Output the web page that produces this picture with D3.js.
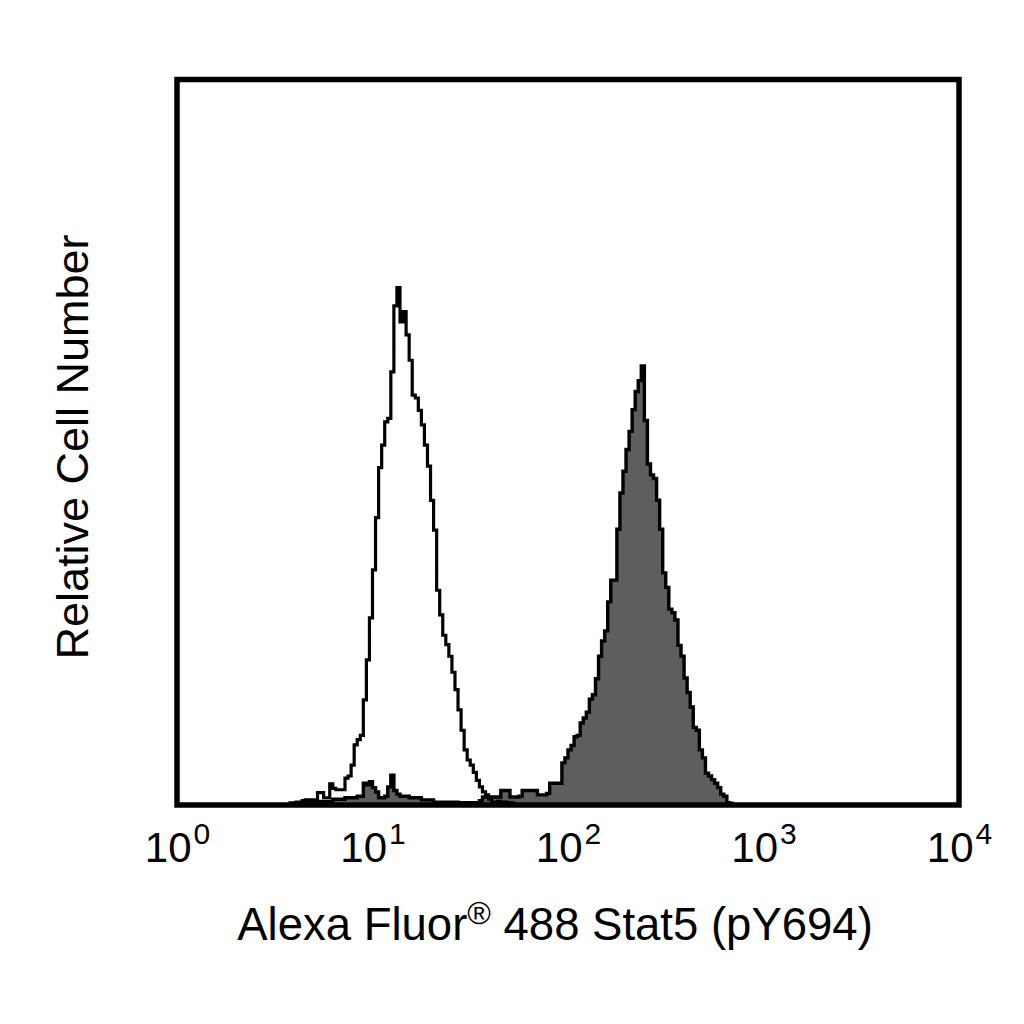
<!DOCTYPE html>
<html>
<head>
<meta charset="utf-8">
<script src="https://cdn.jsdelivr.net/npm/d3@7/dist/d3.min.js"></script>
<style>
  html, body { margin: 0; padding: 0; background: #fff; }
  svg { display: block; }
  text { font-family: "Liberation Sans", Arial, Helvetica, sans-serif; fill: #000; }
</style>
</head>
<body>
<svg id="chart" width="1024" height="1024"></svg>
<script>
// Histogram channels: 64 channels per decade (log10 width 1/64), values are relative cell counts (0-100 scale)
const channelsPerDecade = 64;

// Open (unstained / isotype) histogram, starting at channel 37
const openStart = 37;
const openCounts = [
  0.3, 0.3, 0.4, 0.4, 0.6, 0.7, 0.7, 0.7, 0.7, 1.7,
  1.7, 1.0, 1.0, 2.9, 2.3, 2.1, 2.1, 2.1, 3.7, 4.0,
  5.5, 8.3, 9.0, 9.6, 14.5, 20.0, 25.8, 32.4, 39.6, 46.5,
  49.6, 52.8, 53.3, 59.7, 68.8, 71.3, 66.6, 68.0, 64.8, 61.3,
  56.5, 56.1, 54.4, 52.4, 49.6, 46.7, 42.0, 37.9, 29.6, 26.2,
  23.4, 22.1, 20.5, 18.3, 15.9, 13.1, 10.3, 7.6, 6.2, 5.5,
  4.5, 3.4, 2.5, 1.8, 1.4, 0.8, 0.4, 0.4, 0.5, 0.3,
  0.4, 0.3, 0.3, 0.2
];

// Filled (stimulated, pY694 Stat5) histogram, starting at channel 40
const filledStart = 40;
const filledCounts = [
  0.3, 0.4, 0.4, 0.4, 0.4, 0.4, 0.5, 0.5, 0.5, 0.5,
  0.5, 0.8, 0.8, 0.8, 0.8, 1.0, 1.0, 1.0, 1.0, 1.2,
  1.2, 3.0, 2.8, 3.2, 2.4, 1.8, 1.0, 1.0, 1.2, 2.5,
  4.1, 2.0, 1.5, 1.2, 1.2, 1.2, 1.0, 1.0, 1.0, 1.0,
  0.7, 0.7, 0.7, 0.7, 0.4, 0.4, 0.4, 0.4, 0.4, 0.4,
  0.4, 0.4, 0.3, 0.3, 0.3, 0.3, 0.3, 0.3, 0.3, 0.6,
  1.1, 1.1, 1.1, 1.1, 1.1, 1.1, 2.0, 2.0, 2.0, 1.1,
  1.1, 1.1, 1.2, 2.0, 2.0, 2.0, 2.0, 2.0, 1.4, 1.4,
  1.4, 1.6, 3.0, 3.0, 3.0, 3.0, 5.8, 6.5, 7.6, 8.2,
  9.4, 9.6, 11.3, 12.0, 12.8, 14.6, 15.2, 17.4, 20.5, 22.6,
  24.0, 28.0, 31.0, 31.0, 38.0, 43.0, 46.0, 49.0, 51.5, 54.5,
  57.0, 58.5, 60.5, 53.0, 47.0, 45.5, 45.0, 42.0, 38.0, 32.0,
  30.0, 27.0, 26.5, 25.5, 22.0, 20.5, 17.5, 15.5, 13.5, 10.7,
  10.3, 7.6, 6.5, 4.4, 4.0, 3.5, 3.0, 2.4, 1.5, 1.2,
  0.3, 0.2
];

const tickValues = [1, 10, 100, 1000, 10000];
const tickExponents = ["0", "1", "2", "3", "4"];
const xLabelMain = "Alexa Fluor";
const xLabelSup = "®";
const xLabelRest = " 488 Stat5 (pY694)";
const yLabel = "Relative Cell Number";

const svg = d3.select("#chart");
const plotLeft = 177, plotRight = 959, plotTop = 79.5, plotBottom = 805;

const x = d3.scaleLog().domain([1, 10000]).range([plotLeft, plotRight]);
const y = d3.scaleLinear().domain([0, 100]).range([plotBottom, plotTop]);

function toPoints(start, counts) {
  const pts = [];
  pts.push([Math.pow(10, start / channelsPerDecade), 0]);
  counts.forEach((c, i) => {
    pts.push([Math.pow(10, (start + i) / channelsPerDecade), c]);
  });
  pts.push([Math.pow(10, (start + counts.length) / channelsPerDecade), 0]);
  return pts;
}

const line = d3.line()
  .x(d => x(d[0]))
  .y(d => y(d[1]))
  .curve(d3.curveStepAfter);

const plot = svg.append("g");

// filled histogram
plot.append("path")
  .datum(toPoints(filledStart, filledCounts))
  .attr("d", d => line(d) + "Z")
  .attr("fill", "#5e5e5e")
  .attr("stroke", "#000")
  .attr("stroke-width", 3.4)
  .attr("stroke-linejoin", "miter");

// open histogram
plot.append("path")
  .datum(toPoints(openStart, openCounts))
  .attr("d", line)
  .attr("fill", "none")
  .attr("stroke", "#000")
  .attr("stroke-width", 3.2)
  .attr("stroke-linejoin", "miter");

// frame
svg.append("rect")
  .attr("x", plotLeft).attr("y", plotTop)
  .attr("width", plotRight - plotLeft).attr("height", plotBottom - plotTop)
  .attr("fill", "none")
  .attr("stroke", "#000")
  .attr("stroke-width", 5.5);

// x axis (tick labels with superscript exponents)
const xAxis = d3.axisBottom(x).tickValues(tickValues).tickSize(0).tickFormat("");
const gx = svg.append("g").attr("transform", `translate(0,${plotBottom})`).call(xAxis);
gx.select(".domain").remove();
gx.selectAll(".tick").each(function(d, i) {
  const t = d3.select(this).append("text")
    .attr("y", 57)
    .attr("text-anchor", "middle")
    .style("font-size", "42px")
    .attr("fill", "#000");
  t.append("tspan").text("10");
  t.append("tspan").attr("dx", "2").attr("dy", "-0.6em").style("font-size", "30px").text(tickExponents[i]);
});

// x label
const xl = svg.append("text")
  .attr("x", 555).attr("y", 940)
  .attr("text-anchor", "middle")
  .style("font-size", "45.5px");
xl.append("tspan").text(xLabelMain);
xl.append("tspan").attr("dy", "-0.5em").style("font-size", "32px").text(xLabelSup);
xl.append("tspan").attr("dy", "0.355em").text(xLabelRest);

// y label
svg.append("text")
  .attr("transform", "translate(88,447) rotate(-90)")
  .attr("text-anchor", "middle")
  .style("font-size", "45px")
  .text(yLabel);
</script>
</body>
</html>
